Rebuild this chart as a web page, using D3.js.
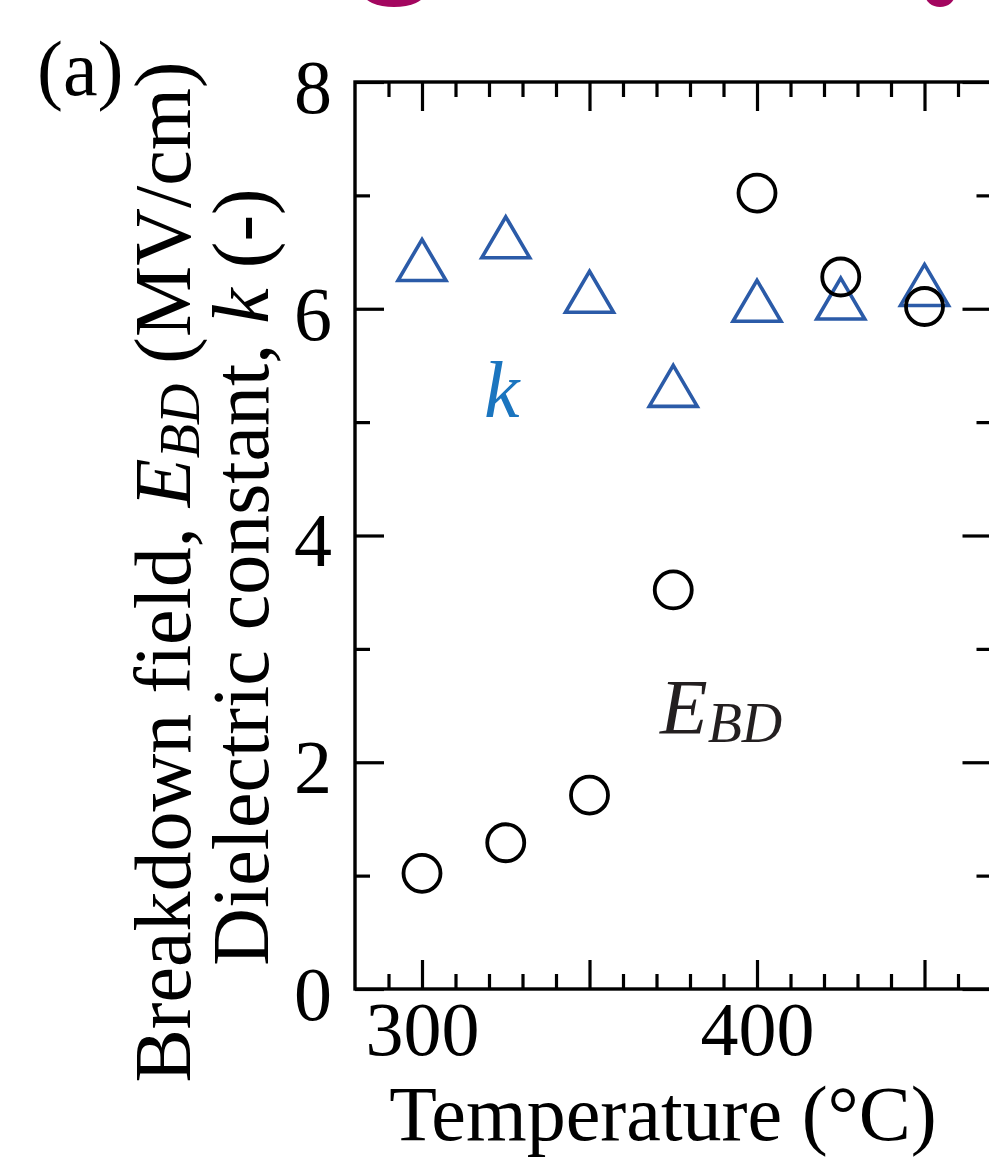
<!DOCTYPE html>
<html>
<head>
<meta charset="utf-8">
<script src="https://cdn.jsdelivr.net/npm/d3@7"></script>
<style>
  html, body { margin: 0; padding: 0; background: #fff; }
  svg { display: block; font-family: "Liberation Serif", "Times New Roman", serif; }
</style>
</head>
<body>
<script>
// data
const temperatures = [300, 325, 350, 375, 400, 425, 450];
const breakdownField = [1.02, 1.29, 1.71, 3.52, 7.02, 6.28, 6.02];
const dielectricK = [6.43, 6.63, 6.15, 5.32, 6.07, 6.09, 6.21];

const yMajorTicks = [0, 2, 4, 6, 8];
const yMinorTicks = [1, 3, 5, 7];
const xMajorTicks = [300, 350, 400, 450];
const xMinorTicks = [290, 310, 320, 330, 340, 360, 370, 380, 390, 410, 420, 430, 440, 460];
const xLabelTicks = [300, 400];

const WIDTH = 989;
const HEIGHT = 1158;
const LEFT = 355, RIGHT = 991.5, TOP = 82, BOTTOM = 989;
const BLUE = "#2b5ba8";
const MAJOR = 29, MINOR = 15;

const svg = d3.select("body").append("svg")
  .attr("width", WIDTH)
  .attr("height", HEIGHT);

//scales
const x = d3.scaleLinear().domain([280, 470]).range([LEFT, RIGHT]);
const y = d3.scaleLinear().domain([0, 8]).range([BOTTOM, TOP]);

//cut-off magenta shapes at the very top (bottom of a title above)
svg.append("ellipse").attr("cx", 394).attr("cy", -7).attr("rx", 31).attr("ry", 14).attr("fill", "#a3065f");
svg.append("ellipse").attr("cx", 940).attr("cy", -6).attr("rx", 15).attr("ry", 13).attr("fill", "#a3065f");

//axes
const styleAxis = (g) => {
  g.select(".domain").remove();
  g.selectAll("line").attr("stroke", "#000").attr("stroke-width", 3.2);
  g.selectAll("text").attr("font-size", 76).attr("fill", "#000")
    .attr("font-family", "Liberation Serif, Times New Roman, serif");
};

svg.append("g").attr("transform", `translate(${LEFT},0)`)
  .call(d3.axisLeft(y).tickValues(yMajorTicks).tickSize(-MAJOR).tickPadding(23).tickFormat(d3.format("d")))
  .call(styleAxis)
  .selectAll("text").attr("dy", "0.4em");
svg.append("g").attr("transform", `translate(${LEFT},0)`)
  .call(d3.axisLeft(y).tickValues(yMinorTicks).tickSize(-MINOR).tickFormat(""))
  .call(styleAxis);

svg.append("g").attr("transform", `translate(${RIGHT},0)`)
  .call(d3.axisRight(y).tickValues(yMajorTicks).tickSize(-MAJOR).tickFormat(""))
  .call(styleAxis);
svg.append("g").attr("transform", `translate(${RIGHT},0)`)
  .call(d3.axisRight(y).tickValues(yMinorTicks).tickSize(-MINOR).tickFormat(""))
  .call(styleAxis);

svg.append("g").attr("transform", `translate(0,${BOTTOM})`)
  .call(d3.axisBottom(x).tickValues(xMajorTicks).tickSize(-MAJOR).tickPadding(12)
    .tickFormat(d => xLabelTicks.includes(d) ? String(d) : ""))
  .call(styleAxis)
  .selectAll("text").attr("dy", "0.71em");
svg.append("g").attr("transform", `translate(0,${BOTTOM})`)
  .call(d3.axisBottom(x).tickValues(xMinorTicks).tickSize(-MINOR).tickFormat(""))
  .call(styleAxis);

svg.append("g").attr("transform", `translate(0,${TOP})`)
  .call(d3.axisTop(x).tickValues(xMajorTicks).tickSize(-MAJOR).tickFormat(""))
  .call(styleAxis);
svg.append("g").attr("transform", `translate(0,${TOP})`)
  .call(d3.axisTop(x).tickValues(xMinorTicks).tickSize(-MINOR).tickFormat(""))
  .call(styleAxis);

//frame
svg.append("rect")
  .attr("x", LEFT).attr("y", TOP)
  .attr("width", RIGHT - LEFT).attr("height", BOTTOM - TOP)
  .attr("fill", "none").attr("stroke", "#000").attr("stroke-width", 3.4);

//triangles for k
const triW = 48, triH = 41;
const triPath = `M0,${-triH / 2}L${triW / 2},${triH / 2}L${-triW / 2},${triH / 2}Z`;
svg.append("g").selectAll("path")
  .data(temperatures.map((t, i) => [t, dielectricK[i]]))
  .enter().append("path")
  .attr("d", triPath)
  .attr("transform", d => `translate(${x(d[0])},${y(d[1])})`)
  .attr("fill", "none")
  .attr("stroke", BLUE)
  .attr("stroke-width", 3.6);

//circles for E_BD
svg.append("g").selectAll("circle")
  .data(temperatures.map((t, i) => [t, breakdownField[i]]))
  .enter().append("circle")
  .attr("cx", d => x(d[0]))
  .attr("cy", d => y(d[1]))
  .attr("r", 18.5)
  .attr("fill", "none")
  .attr("stroke", "#000")
  .attr("stroke-width", 3.8);

//series labels
svg.append("text")
  .attr("x", 484).attr("y", 417)
  .attr("font-size", 80).attr("font-style", "italic")
  .attr("fill", "#1b75bf")
  .text("k");

const ebd = svg.append("text")
  .attr("x", 660).attr("y", 733)
  .attr("font-size", 78).attr("font-style", "italic")
  .attr("fill", "#231f20");
ebd.append("tspan").text("E");
ebd.append("tspan").attr("font-size", 56).attr("dy", 9).text("BD");

//y axis label (two lines)
const yl1 = svg.append("text")
  .attr("transform", "translate(190,572) rotate(-90)")
  .attr("text-anchor", "middle")
  .attr("font-size", 80).attr("fill", "#000");
yl1.append("tspan").text("Breakdown field, ");
yl1.append("tspan").attr("font-style", "italic").text("E");
yl1.append("tspan").attr("font-style", "italic").attr("font-size", 56).attr("dy", 9).text("BD");
yl1.append("tspan").attr("dy", -9).text(" (MV/cm)");

const yl2 = svg.append("text")
  .attr("transform", "translate(268,577) rotate(-90)")
  .attr("text-anchor", "middle")
  .attr("font-size", 80).attr("fill", "#000");
yl2.append("tspan").text("Dielectric constant, ");
yl2.append("tspan").attr("font-style", "italic").text("k");
yl2.append("tspan").text(" (-)");

//x axis label
svg.append("text")
  .attr("x", 663).attr("y", 1140)
  .attr("text-anchor", "middle")
  .attr("font-size", 78).attr("fill", "#000")
  .text("Temperature (°C)");

//panel letter
svg.append("text")
  .attr("x", 37).attr("y", 95)
  .attr("font-size", 78).attr("fill", "#000")
  .text("(a)");
</script>
</body>
</html>
